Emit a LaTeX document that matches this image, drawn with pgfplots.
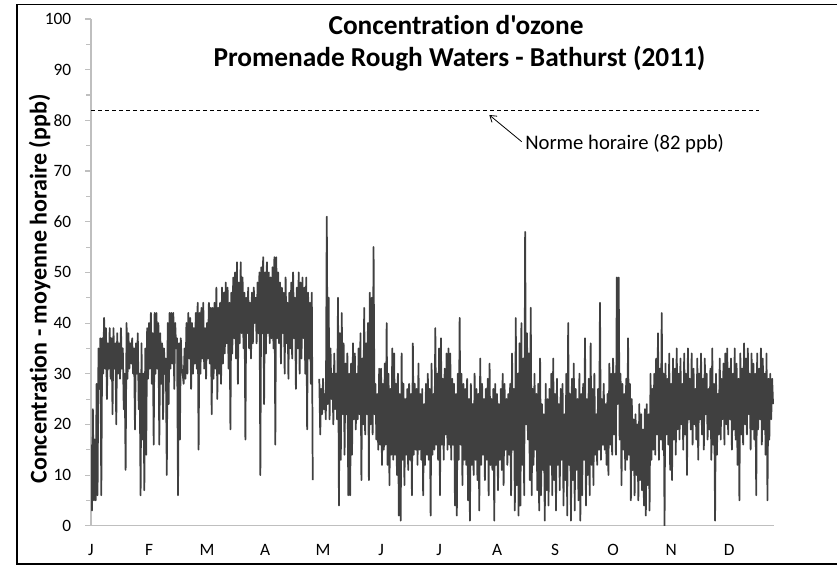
\documentclass[border=0pt]{standalone}
\usepackage{fontspec}
\setmainfont{Carlito}[Ligatures={TeXOff,NoCommon}]
\usepackage{pgfplots}
\pgfplotsset{compat=1.18}
\usepackage{pgfplotstable}
\usetikzlibrary{arrows.meta}
\definecolor{dataline}{HTML}{404040}
\definecolor{axisgray}{HTML}{BFBFBF}

% daily (high, low) pairs of hourly ozone, days 0..364 (nan = missing)
\pgfplotstableread[row sep=\\]{
v\\
16\\3\\23\\5\\17\\5\\28\\6\\35\\27\\37\\6\\37\\30\\41\\31\\39\\25\\36\\31\\
39\\29\\37\\22\\39\\31\\36\\20\\38\\30\\36\\29\\39\\31\\35\\23\\30\\11\\40\\29\\
38\\31\\36\\32\\37\\30\\35\\19\\36\\30\\38\\23\\30\\6\\36\\17\\30\\7\\35\\14\\
39\\29\\40\\31\\42\\28\\38\\16\\42\\30\\42\\31\\40\\16\\38\\28\\36\\21\\35\\30\\
33\\10\\40\\24\\42\\31\\42\\32\\42\\27\\40\\35\\37\\6\\36\\17\\37\\31\\30\\28\\
35\\29\\40\\30\\42\\33\\41\\27\\40\\30\\39\\32\\42\\31\\44\\15\\42\\30\\43\\33\\
44\\31\\39\\29\\40\\33\\44\\32\\43\\22\\43\\29\\44\\31\\47\\25\\43\\30\\44\\28\\
47\\32\\46\\34\\48\\36\\47\\31\\44\\19\\46\\34\\49\\37\\50\\33\\52\\28\\48\\36\\
52\\38\\49\\35\\46\\17\\45\\38\\47\\35\\44\\33\\46\\36\\47\\40\\45\\36\\48\\38\\
50\\10\\51\\38\\53\\24\\50\\34\\52\\38\\50\\36\\49\\37\\51\\35\\53\\16\\53\\37\\
50\\36\\48\\32\\47\\38\\46\\30\\49\\36\\44\\29\\46\\35\\48\\33\\50\\37\\45\\27\\
47\\35\\50\\30\\48\\33\\49\\37\\47\\30\\49\\19\\46\\33\\44\\28\\46\\9\\nan\\
nan\\nan\\nan\\nan\\nan\\29\\18\\27\\22\\29\\23\\26\\21\\61\\24\\45\\21\\35\\25\\30\\20\\
34\\23\\30\\21\\45\\4\\38\\13\\42\\22\\36\\14\\32\\22\\34\\6\\30\\6\\32\\14\\
36\\21\\34\\19\\30\\21\\35\\22\\38\\9\\33\\20\\43\\18\\36\\22\\40\\9\\46\\20\\
45\\18\\55\\22\\28\\17\\26\\15\\31\\16\\31\\12\\28\\15\\32\\16\\40\\12\\30\\8\\
27\\14\\35\\13\\34\\14\\28\\10\\30\\2\\26\\1\\34\\13\\28\\8\\25\\14\\27\\11\\
28\\13\\26\\6\\36\\14\\28\\15\\27\\12\\32\\15\\26\\13\\27\\6\\24\\12\\28\\14\\
30\\13\\27\\2\\32\\14\\26\\15\\39\\16\\30\\13\\35\\6\\37\\16\\29\\13\\31\\18\\
34\\15\\35\\16\\34\\13\\29\\16\\28\\4\\26\\2\\30\\13\\41\\16\\30\\8\\28\\13\\
27\\12\\29\\5\\25\\1\\28\\12\\24\\10\\30\\13\\27\\9\\26\\3\\33\\12\\28\\14\\
25\\9\\27\\13\\29\\6\\32\\12\\25\\11\\27\\1\\28\\12\\26\\7\\24\\13\\27\\11\\
30\\8\\28\\15\\25\\12\\26\\14\\28\\6\\34\\15\\27\\3\\41\\8\\30\\2\\36\\4\\
40\\12\\33\\6\\58\\20\\38\\17\\34\\9\\43\\6\\27\\12\\30\\15\\26\\7\\28\\3\\
33\\6\\24\\11\\22\\1\\28\\7\\25\\4\\27\\12\\30\\6\\33\\9\\26\\3\\29\\12\\
24\\7\\27\\13\\28\\4\\22\\9\\30\\2\\40\\12\\26\\1\\29\\9\\32\\3\\27\\11\\
25\\5\\30\\1\\26\\6\\28\\13\\37\\4\\25\\10\\29\\6\\36\\12\\27\\8\\30\\14\\
22\\12\\27\\15\\44\\13\\25\\16\\28\\15\\24\\12\\26\\10\\32\\16\\30\\14\\33\\18\\
30\\14\\49\\24\\49\\17\\30\\8\\28\\15\\26\\11\\29\\13\\37\\14\\28\\5\\25\\11\\
21\\6\\22\\10\\20\\5\\24\\9\\22\\7\\19\\4\\23\\2\\24\\8\\22\\3\\30\\13\\
27\\15\\30\\14\\33\\18\\38\\13\\31\\17\\42\\15\\30\\0\\32\\18\\29\\16\\34\\11\\
28\\9\\33\\17\\31\\14\\35\\19\\30\\17\\33\\20\\28\\15\\34\\18\\30\\10\\35\\21\\
29\\19\\34\\16\\31\\20\\27\\17\\33\\13\\30\\21\\34\\18\\29\\15\\33\\22\\30\\17\\
27\\19\\31\\13\\35\\16\\28\\1\\30\\14\\26\\18\\33\\17\\29\\21\\32\\16\\34\\20\\
35\\18\\31\\21\\33\\15\\30\\19\\35\\17\\32\\12\\29\\5\\34\\18\\31\\16\\36\\20\\
33\\18\\35\\22\\30\\15\\34\\19\\32\\17\\30\\6\\34\\19\\31\\21\\35\\16\\33\\19\\
30\\14\\34\\5\\29\\17\\30\\21\\29\\24\\
}\ozone

\begin{document}
\begin{tikzpicture}[x=0.75pt,y=-0.75pt]
\path[use as bounding box] (0,0) rectangle (837,566);
\draw[black, line width=0.8pt] (850,4.5) -- (17,4.5) -- (17,564) -- (850,564);
\begin{axis}[
  at={(68.25pt,-394.275pt)}, anchor=south west,
  scale only axis, width=512.25pt, height=380pt,
  xmin=0, xmax=365, ymin=0, ymax=100,
  axis x line*=bottom, axis y line*=left,
  axis line style={draw=axisgray, line width=1pt},
  xtick={0,31,62,93,124,155,186,217,248,279,310,341},
  xticklabels={J,F,M,A,M,J,J,A,S,O,N,D},
  x tick style={draw=none},
  ytick={0,10,...,100}, minor y tick num=1,
  tick align=outside,
  y tick style={draw=axisgray, line width=0.8pt},
  major tick length=4.3pt, minor tick length=3.5pt,
  tick label style={font=\fontsize{13}{15}\selectfont, text=black},
  xticklabel style={yshift=-6pt},
  yticklabel style={xshift=-7pt},
  /pgf/number format/assume math mode=true,
  unbounded coords=jump,
]
\addplot[color=dataline, line width=1.3pt, line join=round]
  table[x expr=\coordindex/2, y=v] {\ozone};
\addplot[black, line width=0.75pt, dash pattern=on 3pt off 2.25pt] coordinates {(0,82) (357,82)};
\end{axis}
\node[font=\bfseries\fontsize{20.5}{24}\selectfont, anchor=base] at (456,35) {Concentration d'ozone};
\node[font=\bfseries\fontsize{20.5}{24}\selectfont, anchor=base] at (459.5,67) {Promenade Rough Waters - Bathurst (2011)};
\node[rotate=90, font=\bfseries\fontsize{18}{21}\selectfont] at (39.5,289) {Concentration - moyenne horaire (ppb)};
\draw[line width=0.6pt, -{Straight Barb[length=4.5pt, width=6pt]}] (521.7,141.7) -- (489.3,115);
\node[anchor=base west, inner sep=0pt, font=\fontsize{15.5}{18}\selectfont] at (525,150) {Norme horaire (82 ppb)};
\end{tikzpicture}
\end{document}
